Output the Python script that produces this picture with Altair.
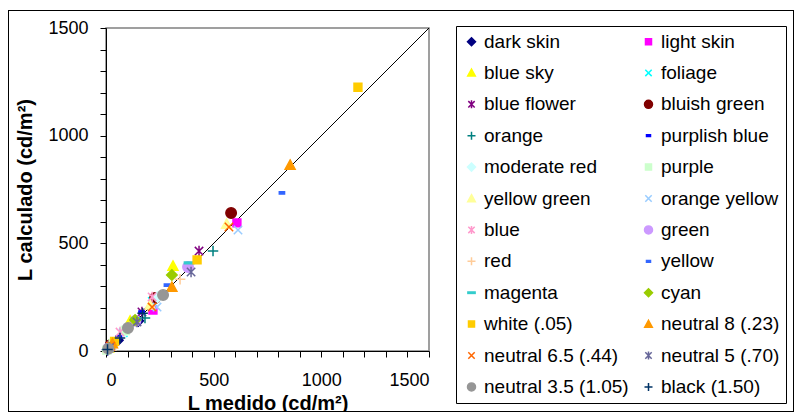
import altair as alt
import pandas as pd

series = ["dark skin", "light skin", "blue sky", "foliage", "blue flower", "bluish green",
          "orange", "purplish blue", "moderate red", "purple", "yellow green", "orange yellow",
          "blue", "green", "red", "yellow", "magenta", "cyan",
          "white (.05)", "neutral 8 (.23)", "neutral 6.5 (.44)", "neutral 5 (.70)",
          "neutral 3.5 (1.05)", "black (1.50)"]

# L medido (x) and L calculado (y), one list per patch (three luminance levels)
medido = [
    [150, 55, 8], [608, 218, 25], [311, 112, 12], [215, 80, 10], [432, 167, 18], [581, 228, 22],
    [497, 181, 20], [165, 60, 7], [240, 88, 10], [90, 33, 4], [560, 205, 22], [613, 237, 25],
    [214, 65, 9], [381, 137, 15], [344, 120, 14], [817, 283, 32], [386, 140, 15], [306, 135, 13],
    [1170, 423, 40], [855, 306, 30], [571, 214, 22], [395, 144, 16], [265, 102, 11], [170, 65, 7],
]
calculado = [
    [140, 50, 6], [595, 190, 22], [395, 140, 15], [230, 85, 10], [464, 181, 20], [641, 246, 28],
    [464, 153, 18], [180, 65, 8], [250, 92, 10], [95, 35, 4], [590, 215, 24], [562, 204, 23],
    [251, 88, 10], [390, 140, 15], [333, 120, 14], [734, 306, 30], [409, 150, 16], [353, 144, 14],
    [1225, 423, 45], [864, 297, 35], [576, 204, 22], [367, 135, 15], [260, 107, 11], [175, 60, 7],
]

colors = ["#000080", "#FF00FF", "#FFFF00", "#00FFFF", "#800080", "#800000",
          "#008080", "#0000FF", "#CCFFFF", "#CCFFCC", "#FFFF99", "#99CCFF",
          "#FF99CC", "#CC99FF", "#FFCC99", "#3366FF", "#33CCCC", "#99CC00",
          "#FFCC00", "#FF9900", "#FF6600", "#666699", "#969696", "#003366"]

DIAMOND = "M0,-1L1,0L0,1L-1,0Z"
SQUARE = "M-0.75,-0.75H0.75V0.75H-0.75Z"
TRIANGLE = "M0,-0.95L0.95,0.8H-0.95Z"
XMARK = "M-0.8,-0.8L0.8,0.8M-0.8,0.8L0.8,-0.8"
STAR = "M-0.8,-0.8L0.8,0.8M-0.8,0.8L0.8,-0.8M0,-1V1"
CIRCLE = "circle"
PLUS = "M-1,0H1M0,-1V1"
SDASH = "M-0.5,-0.22H0.5V0.22H-0.5Z"
LDASH = "M-0.9,-0.18H0.9V0.18H-0.9Z"

shapes = [DIAMOND, SQUARE, TRIANGLE, XMARK, STAR, CIRCLE,
          PLUS, SDASH, DIAMOND, SQUARE, TRIANGLE, XMARK,
          STAR, CIRCLE, PLUS, SDASH, LDASH, DIAMOND,
          SQUARE, TRIANGLE, XMARK, STAR, CIRCLE, PLUS]

rows = []
for name, xs, ys in zip(series, medido, calculado):
    for xv, yv in zip(xs, ys):
        rows.append({"serie": name, "medido": xv, "calculado": yv})
df = pd.DataFrame(rows)

diag = pd.DataFrame({"medido": [0, 1500], "calculado": [0, 1500]})

FONT = "Liberation Sans"
ticks = list(range(0, 1501, 100))

xenc = alt.X("medido:Q", scale=alt.Scale(domain=[0, 1500], nice=False),
             axis=alt.Axis(values=ticks, format="d",
                           labelExpr="datum.value % 500 == 0 ? datum.label : ''",
                           title="L medido (cd/m²)", titleY=58, titleBaseline="alphabetic"))
yenc = alt.Y("calculado:Q", scale=alt.Scale(domain=[0, 1500], nice=False),
             axis=alt.Axis(values=ticks, format="d",
                           labelExpr="datum.value % 500 == 0 ? datum.label : ''",
                           title="L calculado (cd/m²)", titleX=-81, titleBaseline="middle"))

leg = alt.Legend(orient="none", legendX=350, legendY=-2, columns=2, direction="horizontal",
                 symbolSize=64, symbolStrokeWidth=1.5, labelFontSize=19, labelFont=FONT,
                 labelColor="black", labelOffset=3, rowPadding=11.4, columnPadding=10,
                 padding=6, strokeColor="black", fillColor="white", labelLimit=400)

sc = alt.Scale(domain=series, range=colors)

points = alt.Chart(df).mark_point(filled=True, size=110, strokeWidth=1.5, opacity=1).encode(
    x=xenc, y=yenc,
    color=alt.Color("serie:N", scale=sc, legend=leg, title=None, sort=series),
    stroke=alt.Stroke("serie:N", scale=sc, legend=leg, title=None, sort=series),
    shape=alt.Shape("serie:N", scale=alt.Scale(domain=series, range=shapes), legend=leg,
                    title=None, sort=series),
)

line = alt.Chart(diag).mark_line(color="black", strokeWidth=1).encode(x=xenc, y=yenc)

def edge(x1, x2, y1, y2):
    return alt.Chart(diag).mark_rule(color="black", strokeWidth=1).encode(
        x=alt.value(x1), x2=alt.value(x2), y=alt.value(y1), y2=alt.value(y2))

frame = [edge(-98, 688, -17.5, -17.5), edge(-97.5, -97.5, -18, 384),
         edge(687.5, 687.5, -18, 384), edge(-98, 688, 383.5, 383.5)]

chart = alt.layer(*frame, line, points).properties(
    width=323, height=323,
    autosize=alt.AutoSizeParams(type="none"),
    padding={"left": 98, "top": 20, "right": 365, "bottom": 61},
).configure_view(stroke="#808080", strokeWidth=1.5).configure_axis(
    domainColor="black", tickColor="black", tickSize=6, grid=False,
    labelFont=FONT, labelFontSize=18, labelColor="black",
    titleFont=FONT, titleFontSize=20, titleFontWeight="bold", titleColor="black",
).configure_axisX(labelPadding=14).configure_axisY(labelPadding=12)

chart.save("out.html", embed_options={"renderer": "svg", "actions": False})
